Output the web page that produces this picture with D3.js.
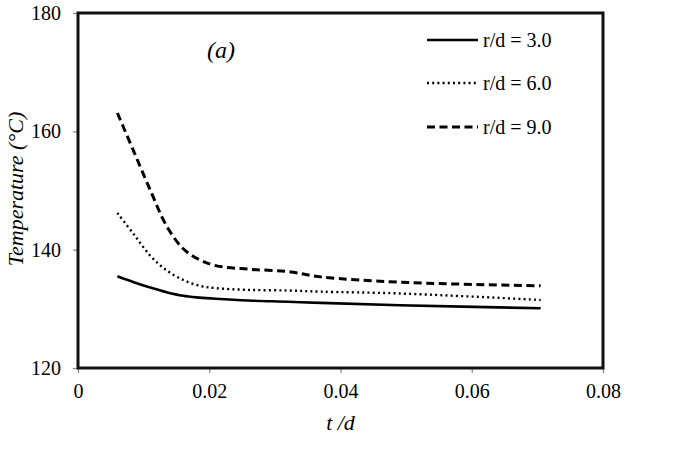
<!DOCTYPE html>
<html><head><meta charset="utf-8">
<script src="https://cdn.jsdelivr.net/npm/d3@7"></script>
<style>body{margin:0;background:#fff}svg{display:block}</style>
</head><body>
<script>
const xVals = [0.006, 0.0085, 0.011, 0.0135, 0.016, 0.0185, 0.021, 0.026, 0.032, 0.037, 0.049, 0.0705];
const rd3 = [135.5, 134.5, 133.6, 132.8, 132.2, 131.9, 131.7, 131.4, 131.2, 131.0, 130.6, 130.1];
const rd6 = [146.2, 142.6, 139.0, 136.5, 134.9, 133.9, 133.5, 133.2, 133.1, 132.9, 132.6, 131.5];
const rd9 = [163.1, 156.6, 150.1, 144.0, 140.2, 138.3, 137.3, 136.7, 136.3, 135.4, 134.5, 133.9];
const seriesNames = ["r/d = 3.0", "r/d = 6.0", "r/d = 9.0"];
const xTicks = [0, 0.02, 0.04, 0.06, 0.08];
const yTicks = [120, 140, 160, 180];

const W = 698, H = 458;
const m = {l: 78, t: 13, r: 95, b: 90};
const FONT = "Liberation Serif";
const svg = d3.select("body").append("svg").attr("width", W).attr("height", H);
const x = d3.scaleLinear().domain([0, 0.08]).range([m.l, W - m.r]);
const y = d3.scaleLinear().domain([120, 180]).range([H - m.b, m.t]);

const xa = svg.append("g").attr("transform", `translate(0,${H - m.b})`)
  .call(d3.axisBottom(x).tickValues(xTicks).tickFormat(d => d === 0 ? "0" : d3.format(".2f")(d)).tickSize(5).tickPadding(11));
const ya = svg.append("g").attr("transform", `translate(${m.l},0)`)
  .call(d3.axisLeft(y).tickValues(yTicks).tickSize(5).tickPadding(12));
[xa, ya].forEach(a => {
  a.attr("font-family", FONT).attr("font-size", 20);
  a.select(".domain").remove();
  a.selectAll(".tick line").attr("stroke", "#888").attr("stroke-width", 1.2);
  a.selectAll(".tick text").attr("fill", "#000");
});

svg.append("rect").attr("x", x(0)).attr("y", y(180))
  .attr("width", x(0.08) - x(0)).attr("height", y(120) - y(180))
  .attr("fill", "none").attr("stroke", "#111").attr("stroke-width", 3);

const styles = [
  {w: 2.6, dash: null},
  {w: 2.4, dash: "2,3.2"},
  {w: 3, dash: "8,4.5"}
];
const allSeries = [rd3, rd6, rd9];
const line = d3.line().x(d => x(d[0])).y(d => y(d[1])).curve(d3.curveCatmullRom.alpha(0.5));
allSeries.forEach((s, i) => {
  svg.append("path").datum(xVals.map((xv, j) => [xv, s[j]]))
    .attr("d", line).attr("fill", "none").attr("stroke", "#000")
    .attr("stroke-width", styles[i].w)
    .attr("stroke-dasharray", styles[i].dash);
});

const legY = [40, 83, 127];
seriesNames.forEach((n, i) => {
  svg.append("line").attr("x1", 427).attr("x2", 478).attr("y1", legY[i]).attr("y2", legY[i])
    .attr("stroke", "#000").attr("stroke-width", styles[i].w)
    .attr("stroke-dasharray", styles[i].dash);
  svg.append("text").attr("x", 483).attr("y", legY[i] + 7).text(n)
    .attr("font-family", FONT).attr("font-size", 20);
});

svg.append("text").attr("x", 207).attr("y", 58).text("(a)")
  .attr("font-family", FONT).attr("font-size", 24).attr("font-style", "italic");

svg.append("text").attr("x", (x(0) + x(0.08)) / 2).attr("y", 430).attr("text-anchor", "middle")
  .text("t /d").attr("font-family", FONT).attr("font-size", 22).attr("font-style", "italic");
svg.append("text").attr("transform", "translate(23,189) rotate(-90)").attr("text-anchor", "middle")
  .text("Temperature (°C)").attr("font-family", FONT).attr("font-size", 22).attr("font-style", "italic");
</script>
</body></html>
